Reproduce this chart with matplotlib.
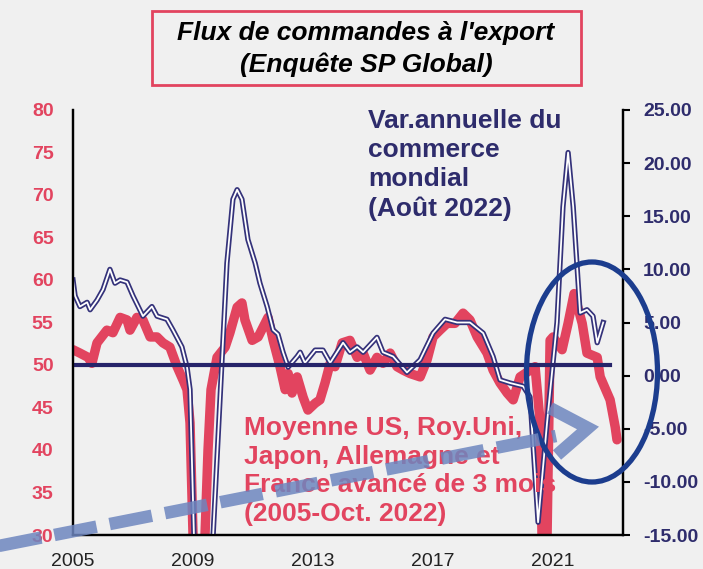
import matplotlib
matplotlib.use('Agg')
import matplotlib.pyplot as plt
from matplotlib.lines import Line2D
from matplotlib.patches import Ellipse, Rectangle

plt.rcParams['font.family'] = ['Liberation Sans', 'DejaVu Sans']
plt.rcParams['axes.unicode_minus'] = False
plt.rcParams['lines.scale_dashes'] = False

# Export orders PMI (avg US, UK, Japan, Germany, France, advanced 3 months) - left axis
red_t = [2005.0, 2005.23, 2005.5, 2005.63, 2005.8, 2006.13, 2006.33, 2006.57, 2006.8, 2006.9,
         2007.13, 2007.33, 2007.57, 2007.8, 2008.0, 2008.23, 2008.47, 2008.67, 2008.8, 2008.9,
         2009.0, 2009.1, 2009.2, 2009.3, 2009.4, 2009.5, 2009.6, 2009.8, 2010.07, 2010.23,
         2010.47, 2010.63, 2010.73, 2010.97, 2011.17, 2011.4, 2011.5, 2011.67, 2011.9, 2012.07,
         2012.17, 2012.3, 2012.47, 2012.67, 2012.83, 2013.07, 2013.23, 2013.4, 2013.57, 2013.73,
         2013.97, 2014.23, 2014.47, 2014.67, 2014.9, 2015.13, 2015.33, 2015.57, 2015.8, 2016.0,
         2016.23, 2016.57, 2016.8, 2017.0, 2017.23, 2017.47, 2017.73, 2018.0, 2018.23, 2018.47,
         2018.8, 2019.0, 2019.23, 2019.47, 2019.67, 2019.9, 2020.07, 2020.4, 2020.57, 2020.63,
         2020.7, 2020.8, 2020.9, 2021.0, 2021.3, 2021.5, 2021.7, 2021.97, 2022.13, 2022.47,
         2022.57, 2022.9, 2023.07, 2023.13]
red_v = [51.8, 51.4, 50.9, 50.2, 52.6, 54.1, 53.8, 55.6, 55.3, 54.1,
         55.6, 55.3, 53.3, 53.3, 52.6, 52.1, 49.8, 48.2, 47.1, 43.2,
         30.0, 28.0, 26.0, 28.0, 30.0, 40.0, 47.1, 50.9, 52.1, 53.8,
         56.8, 57.3, 55.3, 52.9, 53.3, 54.9, 55.6, 52.9, 49.8, 47.1,
         49.0, 46.7, 48.6, 46.2, 44.7, 45.5, 45.9, 47.9, 50.2, 49.8,
         52.6, 52.9, 50.9, 51.4, 49.4, 50.9, 50.2, 51.4, 49.8, 49.4,
         49.0, 48.6, 50.6, 53.3, 54.1, 54.9, 54.9, 56.1, 55.3, 53.3,
         51.4, 49.4, 47.9, 46.7, 45.9, 48.6, 49.0, 49.8, 43.2, 30.0,
         26.0, 30.0, 52.9, 53.3, 51.8, 54.9, 58.4, 54.9, 51.4, 50.9,
         48.6, 45.9, 42.7, 41.2]

# World trade, yoy % (Aug 2022) - right axis
blue_t = [2005.0, 2005.07, 2005.23, 2005.47, 2005.57, 2005.8, 2006.0, 2006.23, 2006.4, 2006.57,
          2006.8, 2007.0, 2007.33, 2007.63, 2007.8, 2008.13, 2008.33, 2008.63, 2008.8, 2008.9,
          2009.03, 2009.2, 2009.35, 2009.5, 2009.67, 2010.13, 2010.33, 2010.47, 2010.63, 2010.83,
          2011.07, 2011.23, 2011.47, 2011.67, 2011.83, 2012.0, 2012.17, 2012.47, 2012.57, 2012.73,
          2013.07, 2013.33, 2013.57, 2014.0, 2014.23, 2014.47, 2014.67, 2015.13, 2015.33, 2015.67,
          2016.13, 2016.57, 2017.0, 2017.4, 2017.8, 2018.23, 2018.67, 2019.0, 2019.23, 2019.57,
          2020.0, 2020.23, 2020.5, 2020.8, 2021.13, 2021.33, 2021.5, 2021.67, 2021.9, 2022.13,
          2022.33, 2022.47, 2022.67]
blue_v = [9.0, 7.5, 6.5, 6.9, 6.2, 7.1, 8.1, 10.0, 8.7, 9.0,
          8.8, 7.5, 5.6, 6.5, 5.6, 5.3, 4.3, 2.7, 0.8, -1.3,
          -15.0, -20.0, -22.0, -19.0, -15.0, 10.6, 16.6, 17.5, 16.6, 12.8,
          10.6, 8.7, 6.5, 4.3, 3.9, 2.2, 0.8, 1.8, 2.2, 1.2,
          2.4, 2.4, 1.2, 3.1, 2.2, 2.7, 2.2, 3.6, 2.2, 1.8,
          0.3, 1.5, 4.0, 5.3, 5.0, 5.0, 4.0, 1.8, -0.4, -0.7,
          -1.0, -2.0, -13.8, -4.4, 5.0, 15.9, 21.0, 15.9, 5.9, 6.2,
          5.6, 3.1, 5.0]

left_ticks = [30, 35, 40, 45, 50, 55, 60, 65, 70, 75, 80]
right_ticks = [-15, -10, -5, 0, 5, 10, 15, 20, 25]
year_ticks = [2005, 2009, 2013, 2017, 2021]
ref_level = 50

bg = '#f0f0f0'
red = '#e2445f'
navy = '#34327a'
text_navy = '#2e2c6c'

W, H = 703, 569
fig = plt.figure(figsize=(W / 100, H / 100), dpi=100, facecolor=bg)
ax = fig.add_axes([73 / W, 34 / H, 550 / W, 425 / H])
ax.set_facecolor(bg)
ax2 = ax.twinx()

ax.plot(red_t, red_v, color=red, lw=6.8, solid_joinstyle='round', solid_capstyle='round')
ax.set_xlim(2005, 2023.33)
ax.set_ylim(30, 80)
ax.set_yticks(left_ticks)
ax.set_xticks(year_ticks)
ax.tick_params(axis='y', length=0, pad=14, labelsize=14, labelcolor=red)
ax.tick_params(axis='x', length=0, pad=13, labelsize=14, labelcolor='#222222')
for lab in ax.get_yticklabels():
    lab.set_fontweight('bold')

ax2.plot(blue_t, blue_v, color=navy, lw=3.8, solid_joinstyle='round')
ax2.plot(blue_t, blue_v, color='white', lw=1.3, solid_joinstyle='round')
ax2.plot([2005, 2022.9], [ref_level, ref_level], color='#26246a', lw=3, transform=ax.transData)
ax2.set_ylim(-15, 25)
ax2.set_yticks(right_ticks)
ax2.set_yticklabels(['%.2f' % v for v in right_ticks], fontweight='bold')
ax2.tick_params(axis='y', length=5, width=1.5, direction='out', pad=9.5, labelsize=14,
                labelcolor=text_navy, color='black')

for a in (ax, ax2):
    a.spines['top'].set_visible(False)
    for s in ('left', 'right', 'bottom'):
        a.spines[s].set_linewidth(1.6)
        a.spines[s].set_color('black')

# title box
fig.add_artist(Rectangle((152 / W, 1 - 85 / H), 429 / W, 74 / H, transform=fig.transFigure,
                         facecolor=bg, edgecolor=red, lw=2))
fig.text(366 / W, 1 - 49 / H, "Flux de commandes à l'export\n(Enquête SP Global)",
         ha='center', va='center', fontsize=19, fontweight='bold', fontstyle='italic',
         color='black', linespacing=1.4)

fig.text(368 / W, 1 - 109 / H, "Var.annuelle du\ncommerce\nmondial\n(Août 2022)",
         ha='left', va='top', fontsize=19, fontweight='bold', color=text_navy, linespacing=1.27)
fig.text(244 / W, 1 - 416 / H, "Moyenne US, Roy.Uni,\nJapon, Allemagne et\nFrance avancé de 3 mois\n(2005-Oct. 2022)",
         ha='left', va='top', fontsize=19, fontweight='bold', color=red, linespacing=1.24)

# highlight ellipse
fig.add_artist(Ellipse((592 / W, 1 - 372 / H), 131 / W, 220 / H, transform=fig.transFigure,
                       fill=False, edgecolor='#1c3d8e', lw=3.8, zorder=5))

# dashed arrow
arrow_c = '#6e86bf'
fig.add_artist(Line2D([-37 / W, 556 / W], [1 - 553 / H, 1 - 436 / H], transform=fig.transFigure,
                      color=arrow_c, lw=9, alpha=0.85, linestyle=(0, (31, 9.6)), zorder=6))
fig.add_artist(Line2D([550 / W, 588 / W, 557 / W], [1 - 408 / H, 1 - 428 / H, 1 - 455 / H],
                      transform=fig.transFigure, color=arrow_c, lw=9, alpha=0.85,
                      solid_joinstyle='miter', solid_capstyle='butt', zorder=6))

fig.savefig('out.png', dpi=100, facecolor=bg)
